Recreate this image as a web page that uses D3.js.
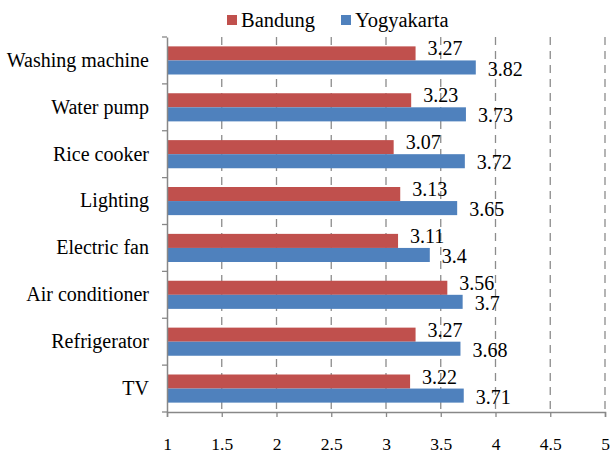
<!DOCTYPE html>
<meta charset="utf-8">
<style>
  body { margin: 0; background: #fff; }
</style>
<script src="https://d3js.org/d3.v7.min.js"></script>
<div id="chart"></div>
<script>

// chart data
var categories = ["Washing machine", "Water pump", "Rice cooker", "Lighting",
                  "Electric fan", "Air conditioner", "Refrigerator", "TV"];
var bandung    = [3.27, 3.23, 3.07, 3.13, 3.11, 3.56, 3.27, 3.22];
var yogyakarta = [3.82, 3.73, 3.72, 3.65, 3.4, 3.7, 3.68, 3.71];
var seriesNames = ["Bandung", "Yogyakarta"];
var xTicks = [1, 1.5, 2, 2.5, 3, 3.5, 4, 4.5, 5];

var colors = ["#C0504D", "#4F81BD"];
var font = "'Liberation Serif'";

var W = 610, H = 453;
var margin = {top: 37, right: 5, bottom: 41, left: 167};
var width = W - margin.left - margin.right,
    height = H - margin.top - margin.bottom;

var svg = d3.select("#chart").append("svg")
    .attr("width", W).attr("height", H);

var g = svg.append("g")
    .attr("transform", "translate(" + margin.left + "," + margin.top + ")");

var x = d3.scaleLinear().domain([1, 5]).range([0, width]);
var y = d3.scaleBand().domain(categories).range([0, height]);
var inner = d3.scaleBand().domain(seriesNames)
    .range([y.bandwidth() * 0.2, y.bandwidth() * 0.8]);

// dashed gridlines
g.selectAll(".grid")
  .data(xTicks.slice(1))
  .enter().append("line")
    .attr("x1", function(d) { return x(d); })
    .attr("x2", function(d) { return x(d); })
    .attr("y1", 0).attr("y2", height)
    .attr("stroke", "#8c8c8c")
    .attr("stroke-width", 1.3)
    .attr("stroke-dasharray", "8,6");

// bars
var rows = categories.map(function(c, i) {
  return {cat: c, vals: [bandung[i], yogyakarta[i]]};
});

var grp = g.selectAll(".row").data(rows).enter().append("g")
    .attr("transform", function(d) { return "translate(0," + y(d.cat) + ")"; });

var bh = inner.bandwidth();
seriesNames.forEach(function(s, k) {
  grp.append("rect")
    .attr("x", x(1))
    .attr("y", inner(s))
    .attr("width", function(d) { return x(d.vals[k]) - x(1); })
    .attr("height", bh)
    .attr("fill", colors[k]);

  grp.append("text")
    .attr("x", function(d) { return x(d.vals[k]) + 12; })
    .attr("y", k == 0 ? inner(s) + bh / 2 + 2 : inner(s) + bh + 1)
    .style("font-family", font)
    .style("font-size", "20px")
    .text(function(d) { return d.vals[k]; });
});

// axes
var xAxis = g.append("g")
    .attr("transform", "translate(0," + height + ")")
    .call(d3.axisBottom(x).tickValues(xTicks).tickFormat(d3.format("")).tickSize(5).tickPadding(21));
xAxis.select(".domain").attr("stroke", "#888").attr("stroke-width", 1.5);
xAxis.selectAll(".tick line").attr("stroke", "#888").attr("stroke-width", 1.3);
xAxis.selectAll("text").style("font-size", "17.5px").style("font-family", font).attr("fill", "#000");

var yAxis = g.append("g")
    .call(d3.axisLeft(y).tickSize(0).tickPadding(18));
yAxis.select(".domain").attr("stroke", "#888").attr("stroke-width", 1.5);
yAxis.selectAll("text").style("font-size", "20px").style("font-family", font).attr("fill", "#000");

// y tick marks at band edges
g.selectAll(".ytick")
  .data(d3.range(categories.length + 1))
  .enter().append("line")
    .attr("x1", -5).attr("x2", 0)
    .attr("y1", function(i) { return i * y.step(); })
    .attr("y2", function(i) { return i * y.step(); })
    .attr("stroke", "#888").attr("stroke-width", 1.3);

// legend
var legend = svg.append("g").attr("transform", "translate(227,15)");
var lx = [0, 114];
seriesNames.forEach(function(s, k) {
  legend.append("rect")
    .attr("x", lx[k]).attr("y", 0)
    .attr("width", 10).attr("height", 10)
    .attr("fill", colors[k]);
  legend.append("text")
    .attr("x", lx[k] + 14).attr("y", 12)
    .style("font-family", font)
    .style("font-size", "20.5px")
    .text(s);
});

</script>
